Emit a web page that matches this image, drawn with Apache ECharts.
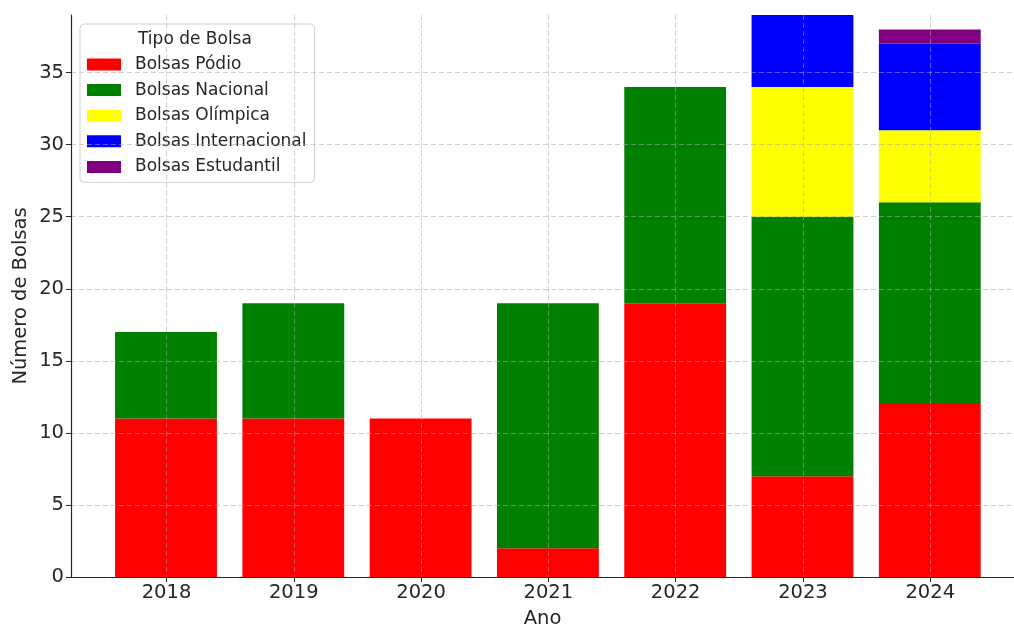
<!DOCTYPE html>
<html>
<head>
<meta charset="utf-8">
<script src="https://cdn.jsdelivr.net/npm/echarts@6/dist/echarts.min.js"></script>
<style>
  html, body { margin: 0; padding: 0; background: #fff; }
  #chart { width: 1014px; height: 627px; }
</style>
</head>
<body>
<div id="chart"></div>
<script>
const years = ['2018', '2019', '2020', '2021', '2022', '2023', '2024'];
const podio = [11, 11, 11, 2, 19, 7, 12];
const nacional = [6, 8, 0, 17, 15, 18, 14];
const olimpica = [0, 0, 0, 0, 0, 9, 5];
const internacional = [0, 0, 0, 0, 0, 5, 6];
const estudantil = [0, 0, 0, 0, 0, 0, 1];
const yTicks = [0, 5, 10, 15, 20, 25, 30, 35];

// tick positions of the years on the frame axis (0..6)
const xPos = years.map((y, i) => i);
const yMax = 39;
const gridLine = { show: true, lineStyle: { color: 'rgba(170,170,170,0.55)', type: [5, 3], width: 1 } };
const textColor = '#262626';
const font = 'DejaVu Sans';

function mkSeries(name, values, color) {
  return {
    name: name,
    type: 'bar',
    stack: 'total',
    xAxisIndex: 1,
    yAxisIndex: 1,
    barWidth: '80%',
    itemStyle: { color: color },
    data: values
  };
}

const chart = echarts.init(document.getElementById('chart'));
chart.setOption({
  animation: false,
  textStyle: { fontFamily: font },
  title: {
    text: 'Tipo de Bolsa',
    left: 133,
    top: 26,
    z: 10,
    textStyle: { fontSize: 17, fontWeight: 'normal', color: textColor, fontFamily: font }
  },
  legend: {
    orient: 'vertical',
    left: 80,
    top: 24,
    padding: [32, 8, 7, 7],
    itemGap: 8.6,
    itemWidth: 34,
    itemHeight: 12,
    icon: 'rect',
    backgroundColor: 'rgba(255,255,255,0.85)',
    borderColor: '#d0d0d0',
    borderWidth: 1,
    borderRadius: 4,
    textStyle: { fontSize: 17, color: textColor, fontFamily: font, padding: [0, 0, 0, 9] }
  },
  grid: [
    // frame: axes, ticks, grid lines
    { left: 71, right: 0, top: 15, bottom: 50, outerBoundsMode: 'none', containLabel: false },
    // bars: one band per year, centred on the frame ticks
    { left: 102.35, right: 20.55, top: 15, bottom: 50, outerBoundsMode: 'none', containLabel: false }
  ],
  xAxis: [{
    type: 'value',
    gridIndex: 0,
    min: -0.75,
    max: 6.658,
    z: 5,
    name: 'Ano',
    nameLocation: 'middle',
    nameGap: 32,
    nameMoveOverlap: false,
    nameTextStyle: { fontSize: 19.5, color: textColor, fontFamily: font },
    axisLine: { show: true, onZero: false, lineStyle: { color: '#262626', width: 1.2 } },
    axisTick: { show: true, length: 5, customValues: xPos, lineStyle: { color: '#262626' } },
    axisLabel: {
      customValues: xPos,
      fontSize: 19.5,
      color: textColor,
      margin: 6,
      formatter: v => years[Math.round(v)]
    },
    splitLine: gridLine
  }, {
    type: 'category',
    gridIndex: 1,
    data: years,
    show: false
  }],
  yAxis: [{
    type: 'value',
    gridIndex: 0,
    min: 0,
    max: yMax,
    z: 5,
    name: 'Número de Bolsas',
    nameLocation: 'middle',
    nameGap: 40,
    nameMoveOverlap: false,
    nameTextStyle: { fontSize: 19.5, color: textColor, fontFamily: font },
    axisLine: { show: true, onZero: false, lineStyle: { color: '#262626', width: 1.2 } },
    axisTick: { show: true, length: 5, customValues: yTicks, lineStyle: { color: '#262626' } },
    axisLabel: { customValues: yTicks, fontSize: 19.5, color: textColor, margin: 7 },
    splitLine: gridLine
  }, {
    type: 'value',
    gridIndex: 1,
    min: 0,
    max: yMax,
    show: false,
    splitLine: { show: false }
  }],
  series: [
    mkSeries('Bolsas Pódio', podio, '#ff0000'),
    mkSeries('Bolsas Nacional', nacional, '#008000'),
    mkSeries('Bolsas Olímpica', olimpica, '#ffff00'),
    mkSeries('Bolsas Internacional', internacional, '#0000ff'),
    mkSeries('Bolsas Estudantil', estudantil, '#800080')
  ]
});
</script>
</body>
</html>
